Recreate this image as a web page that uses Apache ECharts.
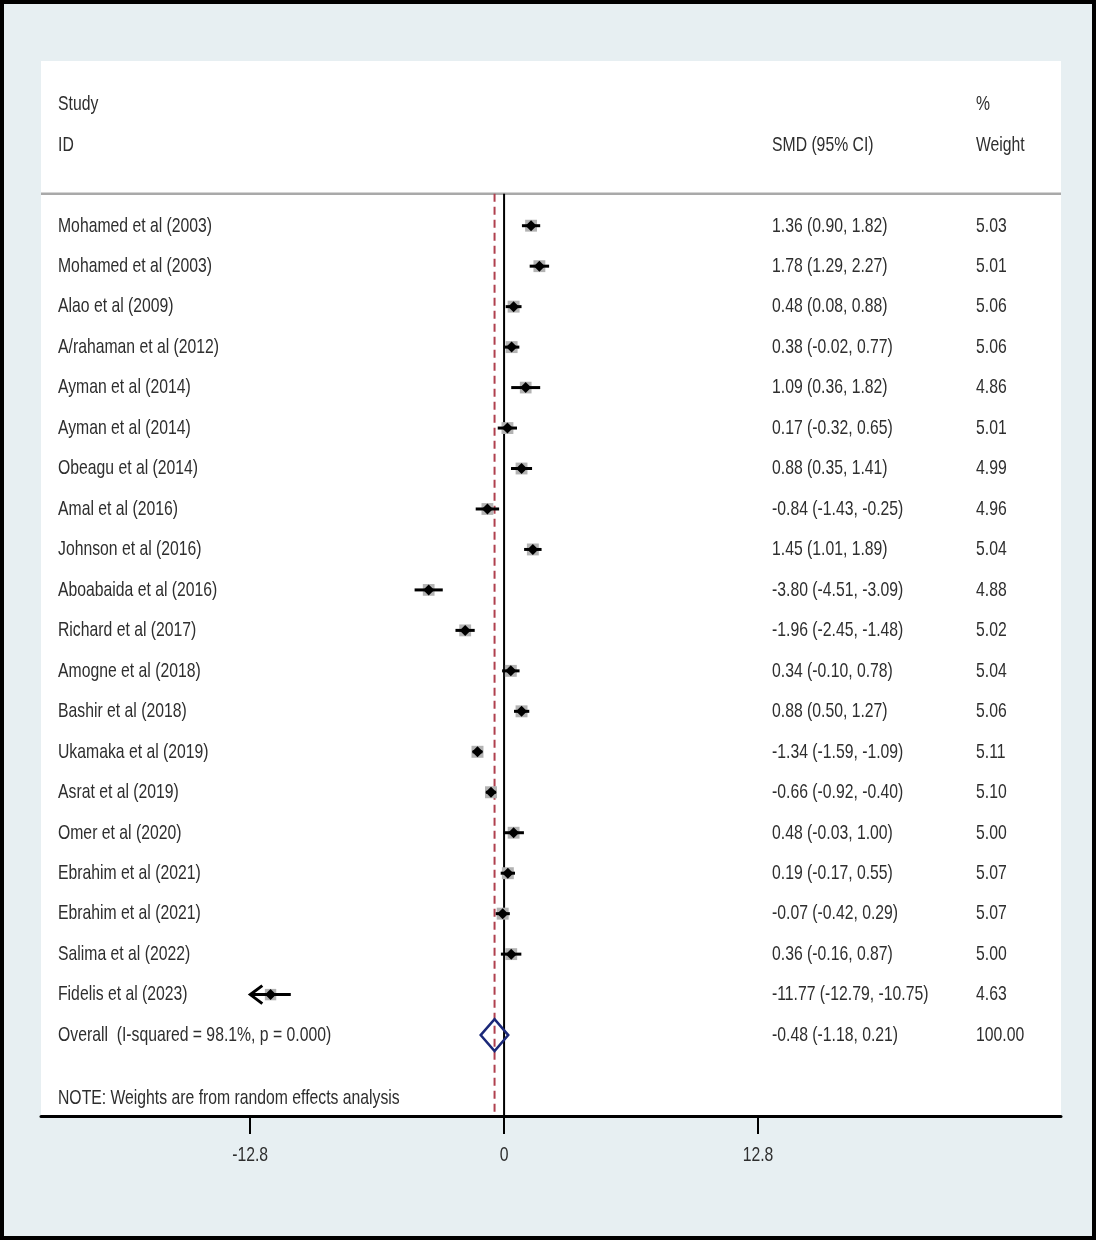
<!DOCTYPE html>
<html>
<head>
<meta charset="utf-8">
<script src="https://cdn.jsdelivr.net/npm/echarts@6/dist/echarts.min.js"></script>
<style>
html, body { margin: 0; padding: 0; background: #e7eff2; }
#main { width: 1096px; height: 1240px; }
</style>
</head>
<body>
<div id="main"></div>
<script>
// study rows, top to bottom
var studies = [
  'Mohamed et al (2003)', 'Mohamed et al (2003)', 'Alao et al (2009)', 'A/rahaman et al (2012)',
  'Ayman et al (2014)', 'Ayman et al (2014)', 'Obeagu et al (2014)', 'Amal et al (2016)',
  'Johnson et al (2016)', 'Aboabaida et al (2016)', 'Richard et al (2017)', 'Amogne et al (2018)',
  'Bashir et al (2018)', 'Ukamaka et al (2019)', 'Asrat et al (2019)', 'Omer et al (2020)',
  'Ebrahim et al (2021)', 'Ebrahim et al (2021)', 'Salima et al (2022)', 'Fidelis et al (2023)'
];
var smd    = [1.36, 1.78, 0.48, 0.38, 1.09, 0.17, 0.88, -0.84, 1.45, -3.80, -1.96, 0.34, 0.88, -1.34, -0.66, 0.48, 0.19, -0.07, 0.36, -11.77];
var ciLow  = [0.90, 1.29, 0.08, -0.02, 0.36, -0.32, 0.35, -1.43, 1.01, -4.51, -2.45, -0.10, 0.50, -1.59, -0.92, -0.03, -0.17, -0.42, -0.16, -12.79];
var ciHigh = [1.82, 2.27, 0.88, 0.77, 1.82, 0.65, 1.41, -0.25, 1.89, -3.09, -1.48, 0.78, 1.27, -1.09, -0.40, 1.00, 0.55, 0.29, 0.87, -10.75];
var weight = [5.03, 5.01, 5.06, 5.06, 4.86, 5.01, 4.99, 4.96, 5.04, 4.88, 5.02, 5.04, 5.06, 5.11, 5.10, 5.00, 5.07, 5.07, 5.00, 4.63];

var overallLabel = 'Overall  (I-squared = 98.1%, p = 0.000)';
var overallSmd = -0.48;
var overallLow = -1.18;
var overallHigh = 0.21;
var overallWeight = 100.00;

var noteText = 'NOTE: Weights are from random effects analysis';
var xTicks = [-12.8, 0, 12.8];

// axis extents (the plot area spans the whole white panel)
var XMIN = -23.34, XMAX = 28.07;
var YMIN = -4.07, YMAX = 22.0;
var HEAD_LINE = -0.79;
var NOTE_ROW = 21.55;
var CLIP = -12.8;

var FONT = '21px "Liberation Sans", Arial, sans-serif';
var TXT = '#2e2e2e';
var SX = 0.75;
var COL_NAME = 58, COL_SMD = 772, COL_W = 976;

function f2(v) { return v.toFixed(2); }
function ciText(e, l, h) { return f2(e) + ' (' + f2(l) + ', ' + f2(h) + ')'; }

function txt(x, y, s, align) {
  align = align || 'left';
  return {
    type: 'text', x: x, y: y, scaleX: SX,
    style: { text: s, font: FONT, fill: TXT, align: align, verticalAlign: 'middle',
             textAlign: align, textVerticalAlign: 'middle' }
  };
}

var myChart = echarts.init(document.getElementById('main'));

var studyData = [];
for (var i = 0; i < studies.length; i++) {
  studyData.push([smd[i], ciLow[i], ciHigh[i], weight[i], i]);
}
var overallRow = studies.length;

var option = {
  animation: false,
  backgroundColor: '#e7eff2',
  grid: { left: 41, right: 35, top: 61, bottom: 124, show: true, backgroundColor: '#fff', borderWidth: 0 },
  xAxis: {
    type: 'value', min: XMIN, max: XMAX,
    axisLine: { show: true, onZero: false, lineStyle: { color: '#000', width: 3 } },
    axisTick: { show: true, customValues: xTicks, length: 18, lineStyle: { color: '#000', width: 2 } },
    axisLabel: { show: false },
    splitLine: { show: false }
  },
  yAxis: { type: 'value', inverse: true, min: YMIN, max: YMAX, show: false },
  graphic: [{
    type: 'rect', silent: true, z: 100,
    shape: { x: 2, y: 2, width: 1092, height: 1236 },
    style: { fill: 'transparent', stroke: '#000', lineWidth: 4 }
  }],
  series: [
    {
      // header rule, zero line, overall dashed line
      type: 'custom', clip: false, silent: true,
      data: [[0, 0]],
      renderItem: function (params, api) {
        var a = api.coord([XMIN, HEAD_LINE]), b = api.coord([XMAX, HEAD_LINE]);
        var z0 = api.coord([0, HEAD_LINE]), z1 = api.coord([0, YMAX]);
        var o0 = api.coord([overallSmd, HEAD_LINE]), o1 = api.coord([overallSmd, YMAX]);
        return { type: 'group', children: [
          { type: 'line', shape: { x1: a[0], y1: a[1], x2: b[0], y2: b[1] }, style: { stroke: '#a9a9a9', lineWidth: 2.5 } },
          { type: 'line', shape: { x1: z0[0], y1: z0[1], x2: z1[0], y2: z1[1] }, style: { stroke: '#000', lineWidth: 2 } },
          { type: 'line', shape: { x1: o0[0], y1: o0[1], x2: o1[0], y2: o1[1] }, style: { stroke: '#b0404e', lineWidth: 2, lineDash: [8, 5] } }
        ] };
      }
    },
    {
      // x tick labels, placed by the x scale
      type: 'custom', clip: false, silent: true,
      data: xTicks.map(function (t) { return [t, YMAX]; }),
      renderItem: function (params, api) {
        var p = api.coord([api.value(0), api.value(1)]);
        return txt(p[0], p[1] + 39, String(api.value(0)), 'center');
      }
    },
    {
      // table text
      type: 'custom', clip: false, silent: true,
      data: studyData.map(function (d) { return [0, d[4]]; }).concat([[0, overallRow]]),
      renderItem: function (params, api) {
        var i = params.dataIndex;
        var y = api.coord([0, api.value(1)])[1];
        var name, ci, w;
        if (i < studies.length) {
          name = studies[i]; ci = ciText(smd[i], ciLow[i], ciHigh[i]); w = f2(weight[i]);
        } else {
          name = overallLabel; ci = ciText(overallSmd, overallLow, overallHigh); w = f2(overallWeight);
        }
        var kids = [txt(COL_NAME, y, name), txt(COL_SMD, y, ci), txt(COL_W, y, w)];
        if (i === 0) {
          var y1 = api.coord([0, -3])[1], y2 = api.coord([0, -2])[1], yn = api.coord([0, NOTE_ROW])[1];
          kids.push(txt(COL_NAME, y1, 'Study'), txt(COL_NAME, y2, 'ID'),
                    txt(COL_SMD, y2, 'SMD (95% CI)'), txt(COL_W, y1, '%'), txt(COL_W, y2, 'Weight'),
                    txt(COL_NAME, yn, noteText));
        }
        return { type: 'group', children: kids };
      }
    },
    {
      // study estimates
      type: 'custom', clip: false, silent: true,
      encode: { x: [0, 1, 2], y: 4 },
      data: studyData,
      renderItem: function (params, api) {
        var est = api.value(0), lo = api.value(1), hi = api.value(2), w = api.value(3), row = api.value(4);
        var c = api.coord([est, row]);
        var pLo = api.coord([Math.max(lo, CLIP), row]);
        var pHi = api.coord([hi, row]);
        var box = Math.sqrt(w) * 5.3;
        var kids = [
          { type: 'rect', shape: { x: c[0] - box / 2, y: c[1] - box / 2, width: box, height: box }, style: { fill: '#b3b3b3' } },
          { type: 'line', shape: { x1: pLo[0], y1: c[1], x2: pHi[0], y2: c[1] }, style: { stroke: '#000', lineWidth: 3 } },
          { type: 'polygon', shape: { points: [[c[0] - 5.5, c[1]], [c[0], c[1] - 5.5], [c[0] + 5.5, c[1]], [c[0], c[1] + 5.5]] }, style: { fill: '#000' } }
        ];
        if (lo <= CLIP + 0.05) {
          kids.push({ type: 'polyline', shape: { points: [[pLo[0] + 12, c[1] - 9], [pLo[0], c[1]], [pLo[0] + 12, c[1] + 9]] },
                      style: { stroke: '#000', lineWidth: 3, fill: null } });
        }
        return { type: 'group', children: kids };
      }
    },
    {
      // pooled estimate diamond
      type: 'custom', clip: false, silent: true,
      data: [[overallSmd, overallLow, overallHigh, overallRow]],
      renderItem: function (params, api) {
        var row = api.value(3);
        var c = api.coord([api.value(0), row]);
        var l = api.coord([api.value(1), row]);
        var r = api.coord([api.value(2), row]);
        var h = 16;
        return {
          type: 'polygon',
          shape: { points: [[l[0], c[1]], [c[0], c[1] - h], [r[0], c[1]], [c[0], c[1] + h]] },
          style: { fill: 'transparent', stroke: '#1b2878', lineWidth: 2.5 }
        };
      }
    }
  ]
};
myChart.setOption(option);
</script>
</body>
</html>
